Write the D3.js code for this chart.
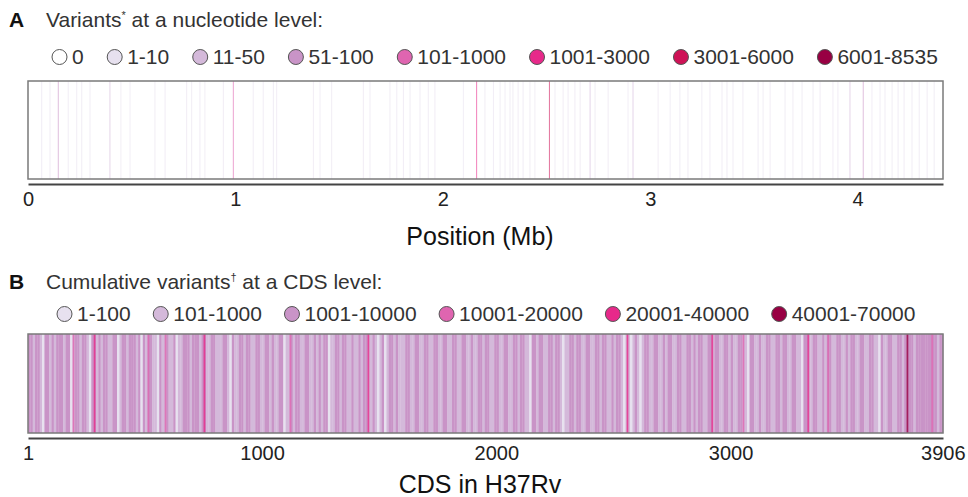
<!DOCTYPE html>
<html>
<head>
<meta charset="utf-8">
<script src="https://cdn.jsdelivr.net/npm/d3@7"></script>
<style>
  body { margin: 0; background: #fff; }
  svg text { font-family: "Liberation Sans", Arial, sans-serif; }
</style>
</head>
<body>
<div id="chart"></div>
<script>
// Panel A: variants per nucleotide position (Mb), category index into ntLabels
const ntLabels = ["0", "1-10", "11-50", "51-100", "101-1000", "1001-3000", "3001-6000", "6001-8535"];
const ntColors = ["#ffffff", "#e7e1ef", "#d4b9da", "#c994c7", "#df65b0", "#e7298a", "#ce1256", "#980043"];
const ntPositions = [0.066, 0.106, 0.146, 0.194, 0.235, 0.259, 0.299, 0.395, 0.448, 0.492,
  0.612, 0.661, 0.765, 0.789, 0.829, 0.853, 0.942, 0.990, 1.086, 1.134,
  1.183, 1.199, 1.376, 1.408, 1.464, 1.617, 1.649, 1.745, 1.778, 1.810,
  1.842, 1.890, 1.930, 1.962, 2.099, 2.163, 2.203, 2.244, 2.276, 2.300,
  2.324, 2.338, 2.363, 2.387, 2.420, 2.444, 2.514, 2.541, 2.580, 2.604,
  2.637, 2.662, 2.710, 2.734, 2.797, 2.893, 2.917, 3.038, 3.096, 3.143,
  3.182, 3.249, 3.288, 3.346, 3.370, 3.399, 3.447, 3.520, 3.544, 3.578,
  3.650, 3.688, 3.732, 3.785, 3.819, 3.881, 3.905, 3.963, 4.027, 4.069,
  4.108, 4.132, 4.166, 4.195, 4.224, 4.262, 4.297, 4.335, 4.369];
const ntCategory = [1, 1, 3, 1, 1, 1, 1, 2, 1, 1,
  1, 1, 1, 1, 1, 1, 1, 4, 1, 1,
  1, 1, 1, 1, 1, 1, 1, 1, 1, 1,
  1, 1, 1, 1, 1, 5, 1, 1, 1, 1,
  1, 1, 1, 1, 1, 1, 6, 1, 1, 1,
  1, 1, 2, 1, 1, 1, 2, 1, 1, 1,
  1, 1, 1, 1, 1, 1, 1, 1, 1, 1,
  1, 1, 1, 1, 1, 1, 1, 2, 3, 1,
  1, 1, 1, 1, 1, 1, 1, 1, 1];
const genomeMb = 4.411532;
const mbTicks = [0, 1, 2, 3, 4];

// Panel B: cumulative variants per CDS
const cdsLabels = ["1-100", "101-1000", "1001-10000", "10001-20000", "20001-40000", "40001-70000"];
const cdsColors = ["#e7e1ef", "#d4b9da", "#c994c7", "#df65b0", "#e7298a", "#980043"];
const cdsCount = 3906;
const cdsPerBlock = 10;
// one digit per block of 10 CDS, 1 = "1-100" ... 6 = "40001-70000"
const cdsBlockRows = [
  "3323321332 3233323312 3323321332 3233223312 3323332313",
  "2332213223 2231223332 3332332233 2223321322 3323322332",
  "2332322331 2232332233 2232323312 2332332232 2323322321",
  "2312332322 2332233223 3223322332 2332233223 2233233223",
  "3223322332 3322133233 2233233212 2332332233 2233233223",
  "2332122123 2123322332 2323322332 2332323322 3323322332",
  "3223322133 2232233223 3233223322 1332233223 2332233223",
  "2332233223 3221322332 2332333323 3333333323 3"
];
// single CDS standing out above their neighbours
const peakCds = [193, 283, 513, 586, 752, 1119, 1452, 2558, 2920, 3053, 3330, 3415, 3753, 3859];
const peakCategory = [4, 5, 4, 4, 5, 4, 5, 5, 5, 4, 5, 4, 6, 4];
const cdsTicks = [1, 1000, 2000, 3000, 3906];

const width = 968, height = 497;
const left = 28, right = 943;
const textColor = "#333";

const svg = d3.select("#chart").append("svg")
  .attr("width", width)
  .attr("height", height);

// ---------- helpers ----------
function panelTitle(y, letter, before, sup, after) {
  svg.append("text")
    .attr("x", 9).attr("y", y)
    .attr("font-size", 21).attr("font-weight", "bold").attr("fill", "#111")
    .text(letter);
  const t = svg.append("text")
    .attr("x", 46).attr("y", y)
    .attr("font-size", 21).attr("fill", textColor);
  t.append("tspan").text(before);
  t.append("tspan").attr("font-size", 11).attr("dy", -8).text(sup);
  t.append("tspan").attr("dy", 8).text(after);
}

function legend(y, startX, labels, colors, gap) {
  const g = svg.append("g").attr("transform", `translate(0,${y})`);
  let x = startX;
  labels.forEach((lab, i) => {
    g.append("circle")
      .attr("cx", x + 7.5).attr("cy", -7).attr("r", 7.5)
      .attr("fill", colors[i])
      .attr("stroke", "#555").attr("stroke-width", 1);
    const t = g.append("text")
      .attr("x", x + 20).attr("y", 0)
      .attr("font-size", 21).attr("fill", textColor)
      .text(lab);
    x += 20 + t.node().getComputedTextLength() + gap;
  });
}

function axisBelow(scale, y, values, fmt, title, titleY) {
  const ax = svg.append("g")
    .attr("transform", `translate(0,${y})`)
    .call(d3.axisBottom(scale).tickValues(values).tickFormat(fmt).tickSize(0).tickPadding(8).tickSizeOuter(0));
  ax.select(".domain").attr("stroke", "#444").attr("stroke-width", 2);
  ax.selectAll("text").attr("font-size", 20).attr("fill", "#222")
    .style("font-family", "Liberation Sans, Arial, sans-serif");
  svg.append("text")
    .attr("x", 480).attr("y", titleY)
    .attr("text-anchor", "middle")
    .attr("font-size", 25).attr("fill", "#111")
    .text(title);
}

// ---------- Panel A ----------
panelTitle(27, "A", "Variants", "*", " at a nucleotide level:");
legend(64, 52, ntLabels, ntColors, 23.5);

const boxA = { top: 81, bottom: 179 };
const xA = d3.scaleLinear().domain([0, genomeMb]).range([left, right]);

svg.append("g").selectAll("line")
  .data(ntPositions.map((p, i) => ({ p, c: ntCategory[i] })))
  .join("line")
  .attr("x1", d => xA(d.p)).attr("x2", d => xA(d.p))
  .attr("y1", boxA.top).attr("y2", boxA.bottom)
  .attr("stroke", d => ntColors[d.c])
  .attr("stroke-opacity", 0.6)
  .attr("stroke-width", 1);

svg.append("rect")
  .attr("x", left).attr("y", boxA.top)
  .attr("width", right - left).attr("height", boxA.bottom - boxA.top)
  .attr("fill", "none").attr("stroke", "#7a7a7a").attr("stroke-width", 1.5);

axisBelow(xA, 184, mbTicks, d3.format("d"), "Position (Mb)", 245);

// ---------- Panel B ----------
panelTitle(289, "B", "Cumulative variants", "\u2020", " at a CDS level:");
legend(321, 57, cdsLabels, cdsColors, 22.5);

const boxB = { top: 334, bottom: 433 };
const xB = d3.scaleLinear().domain([1, cdsCount + 1]).range([left, right]);

const blocks = cdsBlockRows.join("").replace(/ /g, "").split("").map((ch, i) => ({
  start: 1 + i * cdsPerBlock,
  end: Math.min(cdsCount + 1, 1 + (i + 1) * cdsPerBlock),
  c: +ch - 1
}));

svg.append("g").selectAll("rect")
  .data(blocks)
  .join("rect")
  .attr("x", d => xB(d.start))
  .attr("width", d => xB(d.end) - xB(d.start) + 0.3)
  .attr("y", boxB.top).attr("height", boxB.bottom - boxB.top)
  .attr("fill", d => cdsColors[d.c]);

// peaks are thinner than a pixel at this scale, so give them a visible width
svg.append("g").selectAll("rect")
  .data(peakCds.map((p, i) => ({ p, c: peakCategory[i] - 1 })))
  .join("rect")
  .attr("x", d => xB(d.p) - 0.4)
  .attr("width", d => Math.max(1.8, xB(d.p + 1) - xB(d.p)))
  .attr("y", boxB.top).attr("height", boxB.bottom - boxB.top)
  .attr("fill", d => cdsColors[d.c])
  .attr("fill-opacity", 0.8);

svg.append("rect")
  .attr("x", left).attr("y", boxB.top)
  .attr("width", right - left).attr("height", boxB.bottom - boxB.top)
  .attr("fill", "none").attr("stroke", "#7a7a7a").attr("stroke-width", 1.5);

axisBelow(xB, 438, cdsTicks, d3.format("d"), "CDS in H37Rv", 493);
</script>
</body>
</html>
